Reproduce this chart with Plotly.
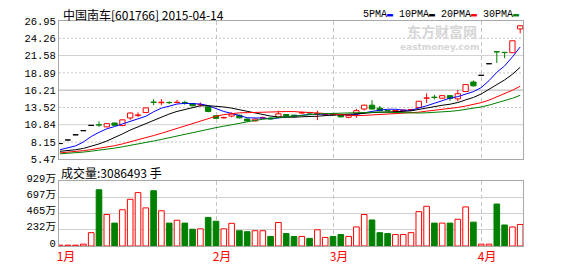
import plotly.graph_objects as go

# ---------------- data ----------------
DAYS = list(range(1, 61))
OPEN = [7.90, 8.45, 9.25, 9.90, 10.72, 10.82, 10.50, 11.10, 10.70, 11.88,
        12.28, 12.72, 14.36, 14.25, 14.30, 14.28, 14.30, 14.11, 13.92, 13.62,
        12.22, 11.90, 12.18, 12.30, 11.72, 11.42, 11.86, 11.88, 12.02, 12.42,
        12.32, 12.65, 12.70, 12.50, 12.35, 12.48, 12.36, 12.00, 12.53, 13.27,
        13.87, 13.42, 13.04, 12.92, 13.05, 13.10, 13.52, 14.95, 15.12, 14.95,
        15.35, 14.85, 15.99, 17.47, 18.50, 20.30, 22.18, 22.08, 22.02, 25.72]
HIGH = [7.90, 8.45, 9.25, 9.90, 10.72, 11.35, 11.05, 11.15, 11.65, 12.75,
        12.75, 13.48, 14.80, 14.80, 14.45, 14.70, 14.55, 14.18, 14.28, 13.68,
        12.25, 12.10, 12.75, 12.40, 11.78, 11.78, 12.10, 11.95, 13.00, 12.48,
        12.38, 12.85, 12.85, 13.02, 12.48, 12.55, 12.40, 12.32, 13.30, 13.95,
        14.65, 13.75, 13.10, 13.10, 13.18, 13.25, 14.52, 15.70, 15.50, 15.40,
        15.40, 16.24, 17.10, 17.72, 18.50, 20.30, 22.18, 22.08, 23.90, 26.25]
LOW = [7.90, 8.45, 9.25, 9.90, 10.72, 10.50, 10.45, 10.68, 10.62, 11.60,
       12.03, 12.68, 13.87, 13.87, 14.05, 14.25, 13.95, 13.72, 13.66, 12.77,
       11.72, 11.80, 11.99, 11.82, 11.38, 11.38, 11.78, 11.65, 11.99, 12.12,
       12.05, 12.55, 12.55, 11.55, 12.30, 12.30, 11.98, 11.85, 11.90, 13.05,
       13.25, 12.98, 12.95, 12.88, 13.00, 13.05, 13.45, 14.20, 14.76, 14.90,
       14.55, 14.46, 15.95, 16.73, 18.50, 20.30, 20.43, 21.17, 22.00, 25.03]
CLOSE = [7.90, 8.45, 9.25, 9.90, 10.72, 10.78, 11.00, 10.75, 11.59, 12.65,
         12.35, 13.45, 14.30, 14.33, 14.26, 14.33, 14.25, 13.77, 13.98, 12.90,
         11.82, 11.96, 12.50, 11.90, 11.42, 11.70, 11.92, 11.72, 12.52, 12.20,
         12.12, 12.72, 12.65, 12.56, 12.40, 12.35, 12.05, 12.28, 13.02, 13.87,
         13.27, 13.02, 13.00, 13.05, 13.12, 13.20, 14.48, 15.00, 15.06, 15.35,
         14.92, 15.65, 17.07, 16.88, 18.50, 20.30, 22.14, 22.04, 23.88, 26.21]
VOLUME = [12, 12, 12, 27, 191, 806, 451, 328, 519, 669,
          765, 546, 792, 505, 328, 369, 328, 240, 246, 410,
          355, 246, 325, 219, 205, 219, 219, 137, 337, 178,
          137, 137, 109, 232, 123, 137, 164, 137, 273, 451,
          373, 191, 178, 164, 164, 191, 492, 569, 328, 328,
          328, 383, 560, 342, 27, 27, 601, 301, 273, 308.6]  # 万手
MA5 = [6.95, 7.22, 7.55, 8.15, 9.00, 9.65, 10.20, 10.55, 10.95, 11.33,
       11.65, 12.15, 12.85, 13.40, 13.72, 14.05, 14.15, 14.12, 14.06, 13.80,
       13.32, 12.89, 12.60, 12.22, 11.92, 11.88, 11.88, 11.75, 11.88, 12.02,
       12.10, 12.26, 12.44, 12.45, 12.49, 12.54, 12.40, 12.33, 12.42, 12.71,
       12.90, 13.09, 13.24, 13.24, 13.09, 13.08, 13.37, 13.77, 14.17, 14.62,
       14.96, 15.20, 15.61, 15.97, 16.60, 17.68, 18.98, 19.97, 21.37, 22.91]
MA10 = [6.70, 6.80, 6.95, 7.15, 7.45, 7.85, 8.30, 8.80, 9.40, 10.00,
        10.50, 11.05, 11.60, 12.10, 12.50, 12.90, 13.23, 13.53, 13.77, 13.79,
        13.74, 13.59, 13.41, 13.17, 12.88, 12.62, 12.39, 12.18, 12.04, 11.97,
        12.00, 12.07, 12.09, 12.15, 12.25, 12.32, 12.33, 12.39, 12.44, 12.60,
        12.72, 12.75, 12.78, 12.83, 12.90, 12.99, 13.23, 13.50, 13.71, 13.86,
        14.02, 14.28, 14.69, 15.07, 15.61, 16.32, 17.09, 17.79, 18.67, 19.76]
MA20 = [6.46, 6.55, 6.66, 6.80, 6.97, 7.15, 7.35, 7.58, 7.85, 8.15,
        8.47, 8.80, 9.15, 9.50, 9.88, 10.25, 10.62, 11.00, 11.40, 11.85,
        12.15, 12.40, 12.56, 12.68, 12.71, 12.76, 12.81, 12.86, 12.90, 12.88,
        12.87, 12.83, 12.75, 12.66, 12.57, 12.47, 12.36, 12.28, 12.24, 12.28,
        12.36, 12.41, 12.43, 12.49, 12.58, 12.65, 12.78, 12.94, 13.07, 13.23,
        13.37, 13.52, 13.74, 13.95, 14.26, 14.65, 15.16, 15.65, 16.19, 16.81]
MA30 = [6.31, 6.38, 6.46, 6.58, 6.72, 6.86, 7.02, 7.20, 7.40, 7.60,
        7.82, 8.05, 8.30, 8.55, 8.82, 9.10, 9.40, 9.68, 9.92, 10.15,
        10.38, 10.60, 10.85, 11.08, 11.30, 11.50, 11.68, 11.83, 11.95, 12.05,
        12.16, 12.30, 12.42, 12.50, 12.56, 12.61, 12.65, 12.70, 12.75, 12.79,
        12.82, 12.80, 12.76, 12.72, 12.68, 12.64, 12.65, 12.69, 12.73, 12.81,
        12.91, 13.03, 13.19, 13.35, 13.59, 13.88, 14.22, 14.56, 14.94, 15.41]
MONTH_START = [1, 21, 36, 55]
MONTH_LABELS = ["1月", "2月", "3月", "4月"]
PRICE_TICKS = [5.47, 8.15, 10.84, 13.52, 16.21, 18.89, 21.58, 24.26, 26.95]
VOL_TICKS = [0, 232, 465, 697, 929]
VOL_LABELS = ["0", "232万", "465万", "697万", "929万"]
TITLE = "中国南车[601766] 2015-04-14"
VOL_TEXT = "成交量:3086493 手"

RED, GREEN, BLUE, BLACK = "#ff0000", "#008000", "#0000ff", "#000000"
MONO = "Liberation Mono, Noto Sans CJK SC, monospace"
CJK = "Noto Sans CJK SC, sans-serif"

n = len(DAYS)
up = [i for i in range(n) if CLOSE[i] > OPEN[i]]
down = [i for i in range(n) if CLOSE[i] < OPEN[i]]
flat = [i for i in range(n) if CLOSE[i] == OPEN[i]]

fig = go.Figure()

def wicks(idx, color):
    xs, ys = [], []
    for i in idx:
        top, bot = max(OPEN[i], CLOSE[i]), min(OPEN[i], CLOSE[i])
        if HIGH[i] > top:
            xs += [DAYS[i], DAYS[i], None]; ys += [top, HIGH[i], None]
        if LOW[i] < bot:
            xs += [DAYS[i], DAYS[i], None]; ys += [LOW[i], bot, None]
    return go.Scatter(x=xs, y=ys, mode="lines", line=dict(color=color, width=1),
                      hoverinfo="skip", showlegend=False, xaxis="x", yaxis="y")

def bodies(idx, fill, line):
    return go.Bar(x=[DAYS[i] for i in idx],
                  base=[min(OPEN[i], CLOSE[i]) for i in idx],
                  y=[max(abs(CLOSE[i] - OPEN[i]), 0.02) for i in idx],
                  width=0.68, marker=dict(color=fill, line=dict(color=line, width=1)),
                  showlegend=False, xaxis="x", yaxis="y")

fig.add_trace(bodies(up, "#ffffff", RED))
fig.add_trace(bodies(down, GREEN, GREEN))
fig.add_trace(bodies(flat, BLACK, BLACK))
fig.add_trace(wicks(up, RED))
fig.add_trace(wicks(down, GREEN))

for ma, col in [(MA5, BLUE), (MA10, BLACK), (MA20, RED), (MA30, GREEN)]:
    fig.add_trace(go.Scatter(x=DAYS, y=ma, mode="lines", line=dict(color=col, width=1),
                             showlegend=False, xaxis="x", yaxis="y"))

vup = [i for i in range(n) if CLOSE[i] >= OPEN[i]]
vdn = [i for i in range(n) if CLOSE[i] < OPEN[i]]
fig.add_trace(go.Bar(x=[DAYS[i] for i in vup], y=[VOLUME[i] for i in vup], width=0.72,
                     marker=dict(color="#ffffff", line=dict(color=RED, width=1)),
                     showlegend=False, xaxis="x2", yaxis="y2"))
fig.add_trace(go.Bar(x=[DAYS[i] for i in vdn], y=[VOLUME[i] for i in vdn], width=0.72,
                     marker=dict(color=GREEN, line=dict(color=GREEN, width=1)),
                     showlegend=False, xaxis="x2", yaxis="y2"))

W, H = 578, 276
L, R, T, B = 59, 523, 21, 257
XR = [1 - 1 / 7.8, 1 + (R - 60) / 7.8]
frame = "#a8a8a8"

common_x = dict(range=XR, tickvals=MONTH_START, showgrid=True, gridcolor="#c4c4c4",
                griddash="4px,3px", gridwidth=1, zeroline=False, showline=True,
                mirror=True, linecolor=frame, linewidth=1, ticks="")

fig.update_layout(
    width=W, height=H, margin=dict(l=L, r=W - R, t=T, b=H - B),
    paper_bgcolor="#ffffff", plot_bgcolor="#ffffff", barmode="overlay",
    showlegend=False,
    xaxis=dict(**common_x, anchor="y", showticklabels=False),
    xaxis2=dict(**common_x, anchor="y2", ticktext=MONTH_LABELS,
                tickfont=dict(family=CJK, size=12, color=RED), ticklabelshift=6),
    yaxis=dict(domain=[(B - 166) / (B - T), 1], range=[PRICE_TICKS[0], PRICE_TICKS[-1]],
               tickvals=PRICE_TICKS, ticktext=["%.2f" % v for v in PRICE_TICKS],
               showgrid=False, zeroline=False, showline=True, mirror=True,
               linecolor=frame, linewidth=1, ticks="",
               tickfont=dict(family=MONO, size=10.5, color="#000000")),
    yaxis2=dict(domain=[0, (B - 189) / (B - T)], range=[VOL_TICKS[0], VOL_TICKS[-1]],
                tickvals=VOL_TICKS, ticktext=VOL_LABELS, showgrid=True,
                gridcolor="#d0d0d0", zeroline=False, showline=True, mirror=True,
                linecolor=frame, linewidth=1, ticks="", ticklabelshift=-3,
                tickfont=dict(family=MONO, size=10.5, color="#000000")),
)

# horizontal price grid lines (alternating dotted / solid, middle one darker)
for k, v in enumerate(PRICE_TICKS[1:-1], start=1):
    if v == PRICE_TICKS[4]:
        col, dash = "#b0b0b0", "solid"
    elif k % 2 == 1:
        col, dash = "#c8c8c8", "2px,2px"
    else:
        col, dash = "#d0d0d0", "solid"
    fig.add_shape(type="line", xref="x domain", yref="y", x0=0, x1=1, y0=v, y1=v,
                  line=dict(color=col, width=1, dash=dash), layer="below")

def px(xp, yp):
    return (xp - L) / (R - L), (B - yp) / (B - T)

ax, ay = px(61, 14)
fig.add_annotation(text=TITLE, x=ax, y=ay, xref="paper", yref="paper", xanchor="left",
                   yanchor="middle", showarrow=False,
                   font=dict(family=CJK, size=12, color="#000000"))
ax, ay = px(521, 14)
legend_txt = ("5PMA<span style='color:%s'>▬</span> 10PMA<span style='color:%s'>▬</span> "
              "20PMA<span style='color:%s'>▬</span> 30PMA<span style='color:%s'>▬</span>"
              % (BLUE, BLACK, RED, GREEN))
fig.add_annotation(text=legend_txt, x=ax, y=ay, xref="paper", yref="paper", xanchor="right",
                   yanchor="middle", showarrow=False,
                   font=dict(family=MONO, size=10, color="#000000"))
ax, ay = px(59, 180)
fig.add_annotation(text=VOL_TEXT, x=ax, y=ay, xref="paper", yref="paper", xanchor="left",
                   yanchor="middle", showarrow=False,
                   font=dict(family=CJK, size=12, color="#000000"))
# watermark
ax, ay = px(479, 32)
fig.add_annotation(text="<b>东方财富网</b>", x=ax, y=ay, xref="paper", yref="paper",
                   showarrow=False, font=dict(family=CJK, size=14, color="#d6d6d6"),
                   yanchor="middle")
ax, ay = px(481, 41)
fig.add_annotation(text="<b>eastmoney.com</b>", x=ax, y=ay, xref="paper", yref="paper",
                   showarrow=False, yanchor="top",
                   font=dict(family="DejaVu Sans", size=9, color="#d6d6d6"))

fig.write_html("out.html")
